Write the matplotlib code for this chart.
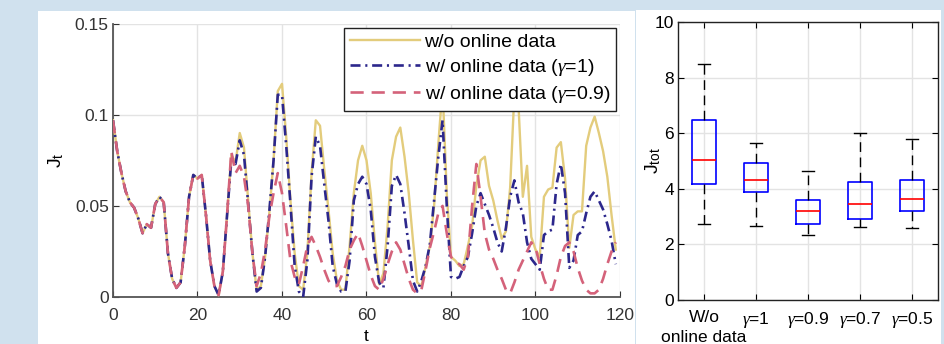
import matplotlib
matplotlib.use('Agg')
import matplotlib.pyplot as plt
import matplotlib.patches as patches
import numpy as np

plt.rcParams['font.family'] = ['Liberation Sans', 'DejaVu Sans']
plt.rcParams['mathtext.fontset'] = 'custom'
plt.rcParams['mathtext.rm'] = 'Liberation Sans'
plt.rcParams['mathtext.it'] = 'Liberation Serif:italic'

# time steps 0..119
t = np.arange(120)

# first 28 steps are the same for all three runs
common = [0.097, 0.080, 0.068, 0.058, 0.052, 0.049, 0.043, 0.035, 0.040, 0.038,
          0.051, 0.055, 0.052, 0.024, 0.010, 0.005, 0.008, 0.028, 0.055, 0.067,
          0.065, 0.067, 0.045, 0.020, 0.006, 0.001, 0.014, 0.045]

# w/o online data (t = 28..119)
j_wo = common + [
    0.078, 0.074, 0.090, 0.082, 0.053, 0.024, 0.004, 0.006, 0.022, 0.046,
    0.075, 0.113, 0.117, 0.088, 0.053, 0.024, 0.006, 0.004, 0.024, 0.068,
    0.097, 0.094, 0.070, 0.048, 0.024, 0.009, 0.004, 0.004, 0.028, 0.057,
    0.075, 0.083, 0.075, 0.057, 0.030, 0.007, 0.013, 0.039, 0.075, 0.088,
    0.093, 0.077, 0.057, 0.031, 0.008, 0.006, 0.017, 0.028, 0.050, 0.084,
    0.115, 0.057, 0.022, 0.020, 0.017, 0.018, 0.028, 0.039, 0.061, 0.075,
    0.077, 0.061, 0.053, 0.042, 0.032, 0.036, 0.060, 0.112, 0.104, 0.055,
    0.072, 0.033, 0.026, 0.022, 0.055, 0.059, 0.060, 0.082, 0.085, 0.065,
    0.027, 0.045, 0.047, 0.047, 0.083, 0.093, 0.099, 0.090, 0.080, 0.066,
    0.045, 0.026]

# w/ online data, gamma = 1
j_g1 = common + [
    0.075, 0.073, 0.086, 0.078, 0.051, 0.024, 0.003, 0.005, 0.022, 0.047,
    0.075, 0.111, 0.111, 0.083, 0.051, 0.017, 0.003, 0.000, 0.020, 0.066,
    0.088, 0.083, 0.062, 0.042, 0.017, 0.007, 0.003, 0.003, 0.020, 0.053,
    0.062, 0.066, 0.062, 0.048, 0.022, 0.008, 0.005, 0.028, 0.061, 0.067,
    0.062, 0.046, 0.028, 0.009, 0.003, 0.009, 0.017, 0.029, 0.053, 0.077,
    0.097, 0.050, 0.011, 0.010, 0.011, 0.017, 0.022, 0.035, 0.050, 0.057,
    0.051, 0.045, 0.038, 0.030, 0.025, 0.038, 0.055, 0.064, 0.052, 0.046,
    0.030, 0.021, 0.018, 0.015, 0.034, 0.036, 0.037, 0.062, 0.073, 0.057,
    0.016, 0.020, 0.034, 0.036, 0.046, 0.055, 0.058, 0.053, 0.048, 0.040,
    0.031, 0.018]

# w/ online data, gamma = 0.9
j_g09 = common + [
    0.080, 0.068, 0.072, 0.066, 0.050, 0.024, 0.006, 0.013, 0.026, 0.044,
    0.057, 0.068, 0.057, 0.039, 0.020, 0.011, 0.007, 0.017, 0.028, 0.033,
    0.028, 0.022, 0.015, 0.009, 0.006, 0.006, 0.011, 0.017, 0.026, 0.031,
    0.035, 0.028, 0.020, 0.012, 0.006, 0.004, 0.010, 0.018, 0.025, 0.030,
    0.026, 0.018, 0.010, 0.004, 0.002, 0.004, 0.015, 0.027, 0.036, 0.046,
    0.050, 0.035, 0.022, 0.019, 0.018, 0.015, 0.022, 0.050, 0.073, 0.055,
    0.035, 0.026, 0.021, 0.015, 0.010, 0.004, 0.002, 0.008, 0.015, 0.020,
    0.025, 0.030, 0.027, 0.018, 0.010, 0.004, 0.004, 0.012, 0.022, 0.028,
    0.030, 0.025, 0.016, 0.009, 0.004, 0.002, 0.002, 0.004, 0.010, 0.018,
    0.025, 0.030]

series_labels = ['w/o online data', r'w/ online data ($\gamma$=1)',
                 r'w/ online data ($\gamma$=0.9)']

# box plot of J_tot
box_labels = ['W/o', r'$\gamma$=1', r'$\gamma$=0.9',
              r'$\gamma$=0.7', r'$\gamma$=0.5']
first_label_line2 = 'online data'
whisk_lo = [2.72, 2.66, 2.35, 2.61, 2.59]
q1 = [4.18, 3.87, 2.72, 2.93, 3.19]
med = [5.03, 4.30, 3.20, 3.45, 3.65]
q3 = [6.49, 4.93, 3.59, 4.25, 4.30]
whisk_hi = [8.50, 5.66, 4.65, 6.02, 5.78]

W, H = 945, 344
fig = plt.figure(figsize=(W / 100, H / 100), dpi=100, facecolor='#d0e1ee')

# white panels behind each plot
fig.patches.append(patches.Rectangle((38 / W, 0), (635 - 38) / W, (H - 11) / H,
                                     transform=fig.transFigure, facecolor='white',
                                     edgecolor='none', zorder=-10))
fig.patches.append(patches.Rectangle((636 / W, 0), (941 - 636) / W, (H - 10) / H,
                                     transform=fig.transFigure, facecolor='white',
                                     edgecolor='none', zorder=-10))

fs = 12.5
grid_c = '#e3e3e3'

# ---- left: J_t over time ----
ax = fig.add_axes([113 / W, 47 / H, 507 / W, 273.3 / H])
ax.patch.set_alpha(0)
ax.plot(t, j_wo, color='#e3cc7c', lw=1.7, label=series_labels[0], zorder=3)
ax.plot(t, j_g1, color='#2c278c', lw=1.9, dashes=(3.8, 1.8, 0.8, 1.8),
        label=series_labels[1], zorder=4)
ax.plot(t, j_g09, color='#d4627a', lw=1.9, dashes=(5.0, 3.0),
        label=series_labels[2], zorder=5)
ax.set_xlim(0, 120)
ax.set_ylim(0, 0.15)
ax.set_xticks(np.arange(0, 121, 20))
ax.set_yticks([0, 0.05, 0.1, 0.15])
ax.set_yticklabels(['0', '0.05', '0.1', '0.15'])
ax.grid(True, color=grid_c, lw=1)
ax.set_axisbelow(True)
for s in ['top', 'right']:
    ax.spines[s].set_visible(False)
for s in ['left', 'bottom']:
    ax.spines[s].set_color('#555555')
    ax.spines[s].set_linewidth(1.3)
ax.tick_params(direction='in', labelsize=fs, colors='#333333', length=4, pad=3)
ax.tick_params(axis='x', pad=8)
ax.set_xlabel('t', fontsize=fs, labelpad=4)
ax.set_ylabel(r'J$_{\mathrm{t}}$', fontsize=fs + 1.5, labelpad=6)
leg = ax.legend(loc='upper right', fontsize=14, handlelength=3.6,
                handletextpad=0.25, labelspacing=0.3, borderpad=0.3,
                borderaxespad=0.2, fancybox=False, framealpha=1)
leg.get_frame().set_edgecolor('#222222')
leg.get_frame().set_linewidth(1.0)
leg.set_zorder(10)

# ---- right: box plot of J_tot ----
ax2 = fig.add_axes([678 / W, 44 / H, 260 / W, 278 / H])
ax2.patch.set_alpha(0)
stats = []
for i in range(len(box_labels)):
    stats.append({'whislo': whisk_lo[i], 'q1': q1[i], 'med': med[i],
                  'q3': q3[i], 'whishi': whisk_hi[i], 'fliers': []})
ax2.bxp(stats, positions=np.arange(1, 6), widths=0.48, capwidths=0.22,
        showfliers=False,
        boxprops=dict(color='#0000ff', lw=1.2),
        medianprops=dict(color='#ff0000', lw=1.2),
        whiskerprops=dict(color='black', lw=1.0, dashes=(7, 4)),
        capprops=dict(color='black', lw=1.0))
ax2.set_xlim(0.5, 5.5)
ax2.set_ylim(0, 10)
ax2.set_yticks(np.arange(0, 11, 2))
ax2.set_xticks(np.arange(1, 6))
ax2.set_xticklabels(box_labels)
ax2.annotate(first_label_line2, xy=(1, 0), xycoords=('data', 'axes fraction'),
             xytext=(0, -21.5), textcoords='offset points',
             ha='center', va='top', fontsize=fs)
ax2.grid(True, color=grid_c, lw=1)
ax2.set_axisbelow(True)
for s in ax2.spines.values():
    s.set_color('#222222')
    s.set_linewidth(1.0)
ax2.tick_params(direction='in', labelsize=fs, length=4, pad=3,
                top=True, right=True)
ax2.tick_params(axis='x', pad=7)
ax2.set_ylabel(r'J$_{\mathrm{tot}}$', fontsize=fs + 1.5, labelpad=-6.5)

fig.savefig('out.png', dpi=100, facecolor=fig.get_facecolor())
